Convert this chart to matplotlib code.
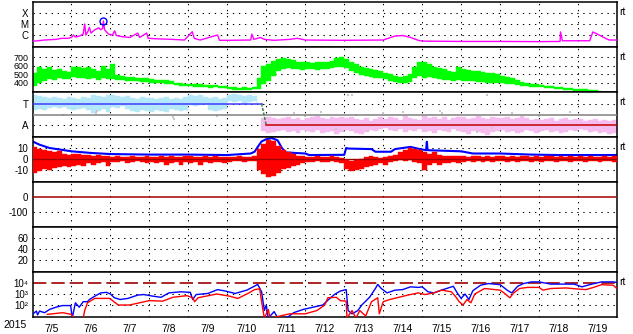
import numpy as np
import matplotlib.pyplot as plt
from matplotlib.ticker import NullLocator

plt.rcParams.update({
    "font.family": ["Liberation Sans", "DejaVu Sans"],
    "font.size": 7.5,
})

nan = np.nan

# ── Data (time in days from 2015-07-05 00 UT) ──────────────────────────────────
dates = ["7/5", "7/6", "7/7", "7/8", "7/9", "7/10", "7/11", "7/12",
         "7/13", "7/14", "7/15", "7/16", "7/17", "7/18", "7/19"]
t3h = np.arange(121) / 8.0          # 3-hourly bin edges

# X-ray flux (W/m2)
xray_t = [0, 0.15, 0.3, 0.6, 0.75, 0.9, 1.0, 1.05, 1.1, 1.2, 1.3, 1.34, 1.37, 1.42,
          1.46, 1.5, 1.6, 1.7, 1.75, 1.8, 1.82, 1.85, 1.95, 2.05, 2.11, 2.15, 2.3,
          2.5, 2.7, 2.75, 2.93, 2.97, 3.2, 3.6, 3.9, 4.1, 4.15, 4.3, 4.75, 4.8, 5.0,
          5.6, 5.63, 5.68, 5.85, 5.95, 6.2, 6.6, 6.8, 7.0, 8.0, 9.0, 9.3, 9.5, 9.7,
          9.9, 10.0, 11.0, 12.0, 13.0, 13.54, 13.55, 13.6, 14.3, 14.38, 14.5, 14.7,
          14.8, 15]
xray_flux = [2.8e-7, 3e-7, 3.5e-7, 4e-7, 5e-7, 5e-7, 6e-7, 1e-6, 6.5e-7, 8e-7,
             1.2e-6, 1e-5, 1e-6, 2e-6, 5e-6, 1.5e-6, 3e-6, 4.5e-6, 3e-6, 4e-6,
             1.9e-5, 3e-6, 1.2e-6, 1e-6, 2.4e-6, 9e-7, 7e-7, 6e-7, 1.5e-6, 6e-7,
             1.5e-6, 5e-7, 4.5e-7, 4e-7, 3.5e-7, 2e-6, 5e-7, 3.5e-7, 1e-6, 3.3e-7,
             3.3e-7, 3.5e-7, 1.2e-6, 4e-7, 6e-7, 4e-7, 3.3e-7, 4e-7, 5e-7, 3.5e-7,
             3.3e-7, 3.5e-7, 8e-7, 9e-7, 6e-7, 3.3e-7, 2.8e-7, 2.6e-7, 2.6e-7,
             2.5e-7, 2.6e-7, 1.9e-6, 3e-7, 3e-7, 1.9e-6, 1.2e-6, 5e-7, 3.5e-7, 3.5e-7]
flare_t = [1.82]
flare_flux = [1.9e-5]

# Solar wind speed (km/s), 3-hourly min / max
speed_lo = [360, 400, 420, 440, 430, 450, 445, 440,
            470, 460, 450, 440, 450, 430, 460, 440,
            440, 430, 430, 420, 420, 415, 410, 405,
            400, 395, 395, 390, 380, 370, 365, 360,
            360, 355, 355, 350, 340, 345, 340, 335,
            330, 310, 310, 315, 310, 320, 330, 380,
            420, 480, 540, 560, 570, 560, 560, 550,
            560, 560, 555, 560, 560, 570, 580, 590,
            570, 540, 510, 490, 480, 470, 460, 450,
            440, 420, 410, 400, 400, 410, 450, 480,
            460, 470, 450, 440, 430, 430, 420, 430,
            420, 420, 420, 410, 410, 400, 400, 400,
            395, 390, 380, 370, 365, 360, 355, 350,
            345, 340, 335, 330, 320, 315, 310, 305,
            300, 300, 295, 295, 292, nan, nan, nan]
speed_hi = [520, 590, 560, 580, 550, 560, 540, 530,
            580, 590, 570, 580, 560, 540, 600, 560,
            620, 490, 480, 470, 470, 460, 455, 450,
            440, 435, 430, 430, 420, 400, 395, 390,
            385, 390, 380, 375, 370, 370, 365, 360,
            355, 345, 340, 345, 340, 345, 450, 600,
            620, 660, 680, 690, 680, 670, 650, 640,
            640, 630, 640, 650, 640, 660, 690, 700,
            680, 640, 620, 590, 570, 560, 550, 540,
            510, 500, 480, 470, 480, 500, 580, 640,
            650, 620, 590, 570, 560, 540, 530, 590,
            560, 550, 540, 540, 530, 520, 520, 500,
            480, 470, 450, 430, 410, 395, 390, 380,
            370, 365, 360, 355, 350, 340, 335, 330,
            325, 320, 315, 310, 305, nan, nan, nan]

# IMF sector (T = +1, A = -1), 3-hourly spread of toward / away points
toward_lo = [0.4, 0.5, 0.4, 0.6, 0.7, 0.6, 0.7, 0.5,
             0.4, 0.5, 0.6, 0.4, 0.1, 0.3, 0.5, 0.2,
             0.7, 0.6, 0.8, 0.5, 0.3, 0.2, 0.4, 0.3,
             0.2, 0.4, 0.3, 0.2, 0.5, 0.4, 0.3, 0.4,
             0.9, 0.8, 0.9, 1.0, 0.4, 0.3, 0.4, 0.5,
             1.2, 1.1, 1.2, 1.0, 1.1, 1.2, 0.9] + [nan] * 73
toward_hi = [1.8, 1.7, 1.6, 1.5, 1.6, 1.5, 1.4, 1.6,
             1.5, 1.4, 1.6, 1.5, 1.8, 1.7, 1.6, 1.8,
             1.8, 1.7, 1.6, 1.7, 1.5, 1.4, 1.6, 1.5,
             1.5, 1.4, 1.5, 1.6, 1.4, 1.5, 1.4, 1.6,
             1.8, 1.7, 1.8, 1.6, 1.5, 1.6, 1.4, 1.5,
             1.8, 1.9, 1.8, 1.7, 1.8, 1.7, 1.6] + [nan] * 73
away_lo = [nan] * 47 + [-1.5,
           -1.7, -1.6, -1.5, -1.4, -1.6, -1.5, -1.7, -1.4,
           -1.5, -1.6, -1.4, -1.7, -1.6, -1.5, -1.8, -1.6,
           -1.4, -1.5, -1.7, -1.8, -1.6, -1.4, -1.5, -1.3,
           -1.2, -1.4, -1.5, -1.3, -1.6, -1.4, -1.5, -1.3,
           -1.6, -1.5, -1.7, -1.4, -1.5, -1.6, -1.3, -1.5,
           -1.6, -1.8, -1.5, -1.6, -1.7, -1.9, -1.6, -1.5,
           -1.4, -1.6, -1.5, -1.7, -1.6, -1.4, -1.5, -1.7,
           -1.5, -1.4, -1.6, -1.5, -1.7, -1.6, -1.4, -1.5,
           -1.3, -1.4, -1.6, -1.5, -1.7, -1.6, -1.8, -1.7]
away_hi = [nan] * 47 + [-0.3,
           -0.2, -0.3, -0.4, -0.3, -0.2, -0.4, -0.3, -0.5,
           -0.3, -0.2, -0.1, -0.3, -0.4, -0.2, -0.3, -0.2,
           -0.3, -0.2, -0.4, -0.5, -0.3, -0.6, -0.4, -0.2,
           -0.4, -0.2, -0.3, -0.5, -0.1, -0.3, -0.4, -0.5,
           -0.1, -0.3, -0.2, -0.4, -0.2, -0.5, -0.3, -0.2,
           -0.2, -0.4, -0.3, -0.1, -0.3, -0.4, -0.2, -0.3,
           -0.3, -0.2, -0.4, -0.3, -0.1, -0.3, -0.5, -0.4,
           -0.5, -0.4, -0.3, -0.6, -0.4, -0.3, -0.5, -0.4,
           -0.4, -0.6, -0.5, -0.4, -0.6, -0.5, -0.6, -0.5]
gray_t = [0.77, 1.64, 1.66, 3.6, 3.62, 4.73, 6.7, 7.0, 7.4, 7.8, 8.1, 8.2,
          8.3, 8.6, 9.0, 9.5, 10.45, 10.5, 11.4, 11.66, 11.8, 12.3, 13.0, 13.8]
gray_v = [-0.05, 0.1, 0.3, -0.2, -0.4, -0.1, 0.1, -0.1, 0.2, -1.3, 1.8, 1.75,
          0.0, -1.5, 0.1, 0.2, 0.3, 0.1, -1.6, 1.8, -1.2, 0.1, -0.1, 0.2]
sector_switch = [5.88, 6.0]

# IMF Bt (nT) and Bz 3-hourly min / max
bt_t = [0, 0.18, 0.44, 1.0, 1.5, 2.0, 3.0, 4.0, 4.5, 5.0, 5.6, 5.7, 5.78, 5.88,
        6.0, 6.14, 6.29, 6.4, 6.5, 7.0, 7.1, 8.0, 8.05, 8.1, 8.7, 8.8, 9.2, 9.3,
        9.7, 9.94, 10.1, 10.12, 10.14, 11.0, 11.3, 12.0, 12.8, 13.5, 15.0]
bt = [16, 13, 10, 7, 5.5, 4.5, 4, 4, 3.8, 3.6, 5, 6.6, 11, 16, 18, 19, 17, 10, 6,
      5, 3.6, 3.8, 10, 9.5, 9, 6.6, 6.6, 9, 11, 9, 8, 15.7, 8, 7, 5, 5, 4, 3.6, 3.6]
bz_lo = [-13, -11, -9, -10, -8, -7, -6, -7,
         -6, -5, -6, -4, -5, -4, -3, -6,
         -3, -3, -2, -4, -3, -2, -3, -4,
         -3, -4, -3, -5, -4, -3, -5, -3,
         -4, -3, -5, -3, -4, -3, -3, -4,
         -3, -2, -2, -3, -2, -2, -10, -14,
         -16, -15, -13, -9, -8, -6, -5, -4,
         -3, -3, -2, -3, -3, -2, -3, -4,
         -9, -11, -10, -9, -7, -6, -5, -4,
         -5, -3, -2, -1, -2, -1, -3, -4,
         -10, -5, -4, -5, -4, -4, -3, -4,
         -3, -2, -3, -2, -3, -2, -3, -2,
         -2, -3, -2, -3, -2, -2, -3, -2,
         -3, -2, -2, -3, -2, -2, -3, -2,
         -2, -3, -2, -2, -3, -2, -2, -3]
bz_hi = [11, 9, 8, 7, 6, 7, 5, 4,
         5, 5, 4, 4, 3, 4, 3, 3,
         2, 3, 2, 2, 3, 2, 2, 3,
         2, 2, 3, 2, 3, 2, 2, 3,
         3, 2, 2, 3, 2, 3, 2, 2,
         2, 2, 3, 2, 2, 3, 9, 14,
         17, 16, 12, 8, 6, 5, 3, 3,
         2, 2, 3, 2, 2, 3, 2, 1,
         -1, -2, -1, 0, 2, 3, 2, 1,
         2, 3, 4, 6, 8, 10, 9, 8,
         6, 5, 6, 4, 3, 3, 3, 3,
         3, 2, 3, 3, 2, 3, 2, 3,
         3, 2, 3, 2, 3, 3, 2, 3,
         2, 3, 3, 2, 3, 2, 3, 2,
         3, 2, 3, 2, 2, 3, 2, 3]

# >2 MeV electron flux, log10 (two satellites)
eb_t = [0, 0.1, 0.13, 0.18, 0.31, 0.44, 0.6, 0.77, 0.98, 1.02, 1.1, 1.2, 1.3, 1.41,
        1.46, 1.6, 1.75, 1.9, 2.0, 2.1, 2.25, 2.45, 2.7, 2.85, 3.1, 3.3, 3.5, 3.8,
        4.05, 4.11, 4.2, 4.5, 4.75, 4.95, 5.2, 5.5, 5.78, 5.88, 5.95, 6.0, 6.05,
        6.2, 6.3, 6.55, 6.7, 6.95, 7.2, 7.45, 7.6, 7.75, 7.9, 8.05, 8.1, 8.2, 8.35,
        8.45, 8.65, 8.8, 8.86, 8.95, 9.1, 9.3, 9.5, 9.7, 9.9, 10.0, 10.15, 10.3,
        10.45, 10.8, 10.9, 11.0, 11.1, 11.2, 11.3, 11.5, 11.7, 12.0, 12.2, 12.3,
        12.45, 12.6, 12.8, 13.0, 13.3, 13.9, 14.1, 14.3, 14.6, 14.9, 15.0]
eb_log = [1.15, 1.45, 1.1, 1.45, 1.3, 1.6, 1.8, 1.95, 1.95, 0.8, 2.2, 1.8, 2.3,
          2.3, 2.5, 2.8, 3.1, 3.15, 3.0, 2.66, 2.5, 2.6, 2.9, 2.95, 2.8, 2.7, 3.1,
          3.2, 3.15, 2.5, 2.95, 3.05, 3.4, 3.27, 3.05, 3.35, 3.87, 3.2, 1.5, 2.0,
          0.8, 1.4, 0.8, 0.9, 1.3, 1.6, 1.8, 2.0, 2.5, 2.96, 3.27, 3.4, 1.5, 1.2,
          1.5, 2.0, 2.7, 3.5, 3.87, 3.5, 3.1, 3.35, 3.4, 3.65, 3.6, 3.65, 3.2, 3.1,
          3.3, 3.7, 3.1, 2.6, 3.0, 2.5, 3.3, 3.8, 3.95, 3.85, 3.3, 3.1, 3.7, 3.95,
          4.1, 4.1, 3.9, 3.9, 3.65, 3.85, 4.1, 4.1, 4.05]
er_t = [0.38, 0.77, 1.0, 1.05, 1.3, 1.34, 1.41, 1.6, 1.98, 2.2, 2.49, 3.0, 3.34,
        3.6, 3.96, 4.11, 4.16, 4.25, 4.73, 5.06, 5.27, 5.5, 5.7, 5.83, 5.88, 5.95,
        6.05, 6.1, 6.6, 7.0, 7.3, 7.5, 7.58, 7.8, 7.9, 8.05, 8.07, 8.2, 8.3, 8.4,
        8.55, 8.7, 8.86, 8.9, 9.0, 9.17, 9.4, 9.63, 9.9, 10.07, 10.3, 10.5, 10.75,
        10.85, 10.95, 11.05, 11.15, 11.25, 11.35, 11.6, 12.0, 12.1, 12.25, 12.35,
        12.5, 12.7, 13.0, 13.1, 13.3, 13.7, 14.0, 14.2, 14.4, 14.6, 14.9, 15.0]
er_log = [1.15, 1.3, 1.15, 0.8, 0.8, 1.5, 2.2, 2.6, 2.6, 2.0, 2.0, 2.4, 2.35, 2.7,
          2.85, 2.66, 2.3, 2.66, 3.0, 2.8, 2.6, 3.0, 3.4, 3.47, 2.3, 0.8, 1.6, 0.8,
          1.2, 1.2, 1.5, 2.0, 2.66, 2.7, 2.4, 2.35, 0.8, 1.5, 0.8, 1.5, 1.0, 2.3,
          2.66, 1.2, 2.3, 2.5, 2.7, 2.9, 3.1, 2.95, 3.1, 3.35, 3.2, 2.8, 2.3, 2.0,
          2.5, 2.2, 3.0, 3.5, 3.35, 3.1, 2.66, 3.1, 3.5, 3.6, 3.6, 3.35, 3.5, 3.55,
          3.45, 3.4, 3.6, 3.85, 3.8, 3.5]

# ── Layout ────────────────────────────────────────────────────────────────────
W, H = 633, 334
L, R = 32.5, 617
tops = [2, 47, 92, 137, 182, 227, 272]
PH = 45
DOT = dict(color="black", lw=0.75, ls=(0, (1.3, 4.5)), zorder=1)
DARKRED = "#a00000"
TICKFS = 7

fig = plt.figure(figsize=(W / 100, H / 100), dpi=100)
axes = []
for top in tops:
    ax = fig.add_axes([L / W, 1 - (top + PH) / H, (R - L) / W, PH / H])
    ax.set_xlim(0, 15)
    ax.set_xticks([])
    ax.tick_params(length=0, pad=3, labelsize=TICKFS)
    for s in ax.spines.values():
        s.set_linewidth(1.1)
    for d in range(1, 15):
        ax.axvline(d, **DOT)
    axes.append(ax)


def band(ax, lo, hi, color, z=2):
    lo = np.append(lo, lo[-1])
    hi = np.append(hi, hi[-1])
    ax.fill_between(t3h, lo, hi, step="post", color=color, lw=0.3,
                    edgecolor=color, zorder=z)


# 1: X-ray
ax = axes[0]
ax.set_yscale("log")
ax.set_ylim(10 ** -7.09, 1e-3)
for y in [1e-4, 1e-5, 1e-6]:
    ax.axhline(y, **DOT)
ax.plot(xray_t, xray_flux, color="#ff00ff", lw=1, zorder=3)
ax.plot(flare_t, flare_flux, "o", ms=5, mfc="none", mec="#0000ff", mew=1, zorder=4)
ax.set_yticks([1e-4, 1e-5, 1e-6], ["X", "M", "C"])
ax.yaxis.set_minor_locator(NullLocator())

# 2: solar wind speed
ax = axes[1]
ax.set_ylim(290, 822)
for y in [400, 500, 600, 700]:
    ax.axhline(y, **DOT)
band(ax, speed_lo, speed_hi, "#00ff00")
ax.set_yticks([700, 600, 500, 400], ["700", "600", "500", "400"])
ax.tick_params(axis="y", labelsize=6.4)

# 3: IMF sector
ax = axes[2]
ax.set_ylim(-2.05, 2.05)
for y in [1, -1]:
    ax.axhline(y, **DOT)
band(ax, toward_lo, toward_hi, "#b4e8f8")
band(ax, away_lo, away_hi, "#f6bcf0")
ax.scatter(gray_t, gray_v, s=4, marker="s", color="#c8c8c8", lw=0, zorder=2)
ax.axhline(0, color="#808080", lw=1.1, zorder=3)
ax.plot([0, sector_switch[0]], [1, 1], color="#3c3cff", lw=1.1, zorder=4)
ax.plot(sector_switch, [1, -1], color="#408040", lw=1.1, ls=(0, (2, 1)), zorder=4)
ax.plot([sector_switch[1], 15], [-1, -1], color="#c00000", lw=1.1, zorder=4)
ax.set_yticks([1, -1], ["T", "A"])

# 4: IMF Bt / Bz
ax = axes[3]
ax.set_ylim(-20.9, 20)
for y in [10, -10]:
    ax.axhline(y, **DOT)
ax.plot(bt_t, bt, color="#0000ff", lw=1.5, zorder=2)
band(ax, bz_lo, bz_hi, "#ff0000", z=3)
ax.axhline(0, color=DARKRED, lw=1, zorder=4)
ax.set_yticks([10, 0, -10], ["10", "0", "-10"])

# 5: Dst (no data)
ax = axes[4]
ax.set_ylim(-200, 100)
ax.axhline(-100, **DOT)
ax.axhline(0, color=DARKRED, lw=1.1, zorder=3)
ax.set_yticks([0, -100], ["0", "-100"])

# 6: (no data)
ax = axes[5]
ax.set_ylim(-1.2, 80.6)
for y in [20, 40, 60]:
    ax.axhline(y, **DOT)
ax.set_yticks([60, 40, 20], ["60", "40", "20"])

# 7: electron flux
ax = axes[6]
ax.set_yscale("log")
ax.set_ylim(10 ** 0.91, 1e5)
for y in [1e2, 1e3]:
    ax.axhline(y, **DOT)
ax.axhline(1e4, color=DARKRED, lw=1.2, ls=(0, (8, 3)), zorder=2)
ax.plot(eb_t, 10 ** np.array(eb_log), color="#0000ff", lw=1, zorder=3)
ax.plot(er_t, 10 ** np.array(er_log), color="#ff0000", lw=1, zorder=4)
ax.set_yticks([1e4, 1e3, 1e2], ["10\u2074", "10\u00b3", "10\u00b2"])
ax.yaxis.set_minor_locator(NullLocator())
ax.set_xticks(np.arange(15) + 0.5, dates)
ax.tick_params(axis="x", pad=5, labelsize=7.5)

# side labels
for i in [0, 1, 2, 3, 6]:
    fig.text(619 / W, 1 - (tops[i] + 10) / H, "rt", fontsize=7.5, va="center")
fig.text(15 / W, 1 - 325 / H, "2015", fontsize=7.5, ha="center", va="center")

fig.savefig("out.png", dpi=100, facecolor="white")
